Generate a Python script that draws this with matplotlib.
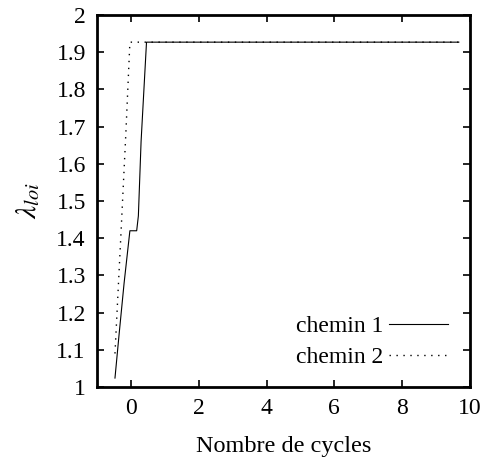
import numpy as np
import matplotlib.pyplot as plt

# chemin 1 : montée, palier à 1.42, montée, palier à 1.927
x1 = [-0.47, -0.35, -0.2, -0.03, 0.17, 0.22, 0.3, 0.46, 9.67]
y1 = [1.024, 1.14, 1.28, 1.42, 1.42, 1.46, 1.66, 1.927, 1.927]

# chemin 2 : montée directe jusqu'au palier
x2 = [-0.47, -0.3, -0.15, -0.03, 9.67]
y2 = [1.09, 1.40, 1.68, 1.927, 1.927]

xticks = [0, 2, 4, 6, 8, 10]
yticks = [1, 1.1, 1.2, 1.3, 1.4, 1.5, 1.6, 1.7, 1.8, 1.9, 2]

plt.rcParams['font.family'] = ['Liberation Serif', 'DejaVu Serif']
plt.rcParams['mathtext.fontset'] = 'stix'

fig = plt.figure(figsize=(4.87, 4.62), dpi=100)
ax = fig.add_axes([97 / 487, 1 - 387 / 462, (470 - 97) / 487, (387 - 15) / 462])

ax.plot(x1, y1, color='black', lw=0.8, label='chemin 1')
ax.plot(x2, y2, color='black', lw=1.0, linestyle=(0, (1, 4)), label='chemin 2')

ax.set_xlim(-1, 10)
ax.set_ylim(1, 2)
ax.set_xticks(xticks)
ax.set_yticks(yticks)
ax.set_yticklabels([f'{v:g}' for v in yticks])
ax.tick_params(direction='in', top=True, right=True, length=5, width=1.2,
               labelsize=17, pad=8)
for s in ax.spines.values():
    s.set_linewidth(2)

ax.set_xlabel('Nombre de cycles', fontsize=17.5, labelpad=12)
ax.set_ylabel(r'$\lambda_{loi}$', fontsize=21, labelpad=10)

ax.legend(loc='lower right', frameon=False, markerfirst=False, fontsize=17,
          handlelength=2.5, handletextpad=0.25, labelspacing=0.4,
          borderpad=0, borderaxespad=0, bbox_to_anchor=(0.941, 0.05))

fig.savefig('out.png', dpi=100)
